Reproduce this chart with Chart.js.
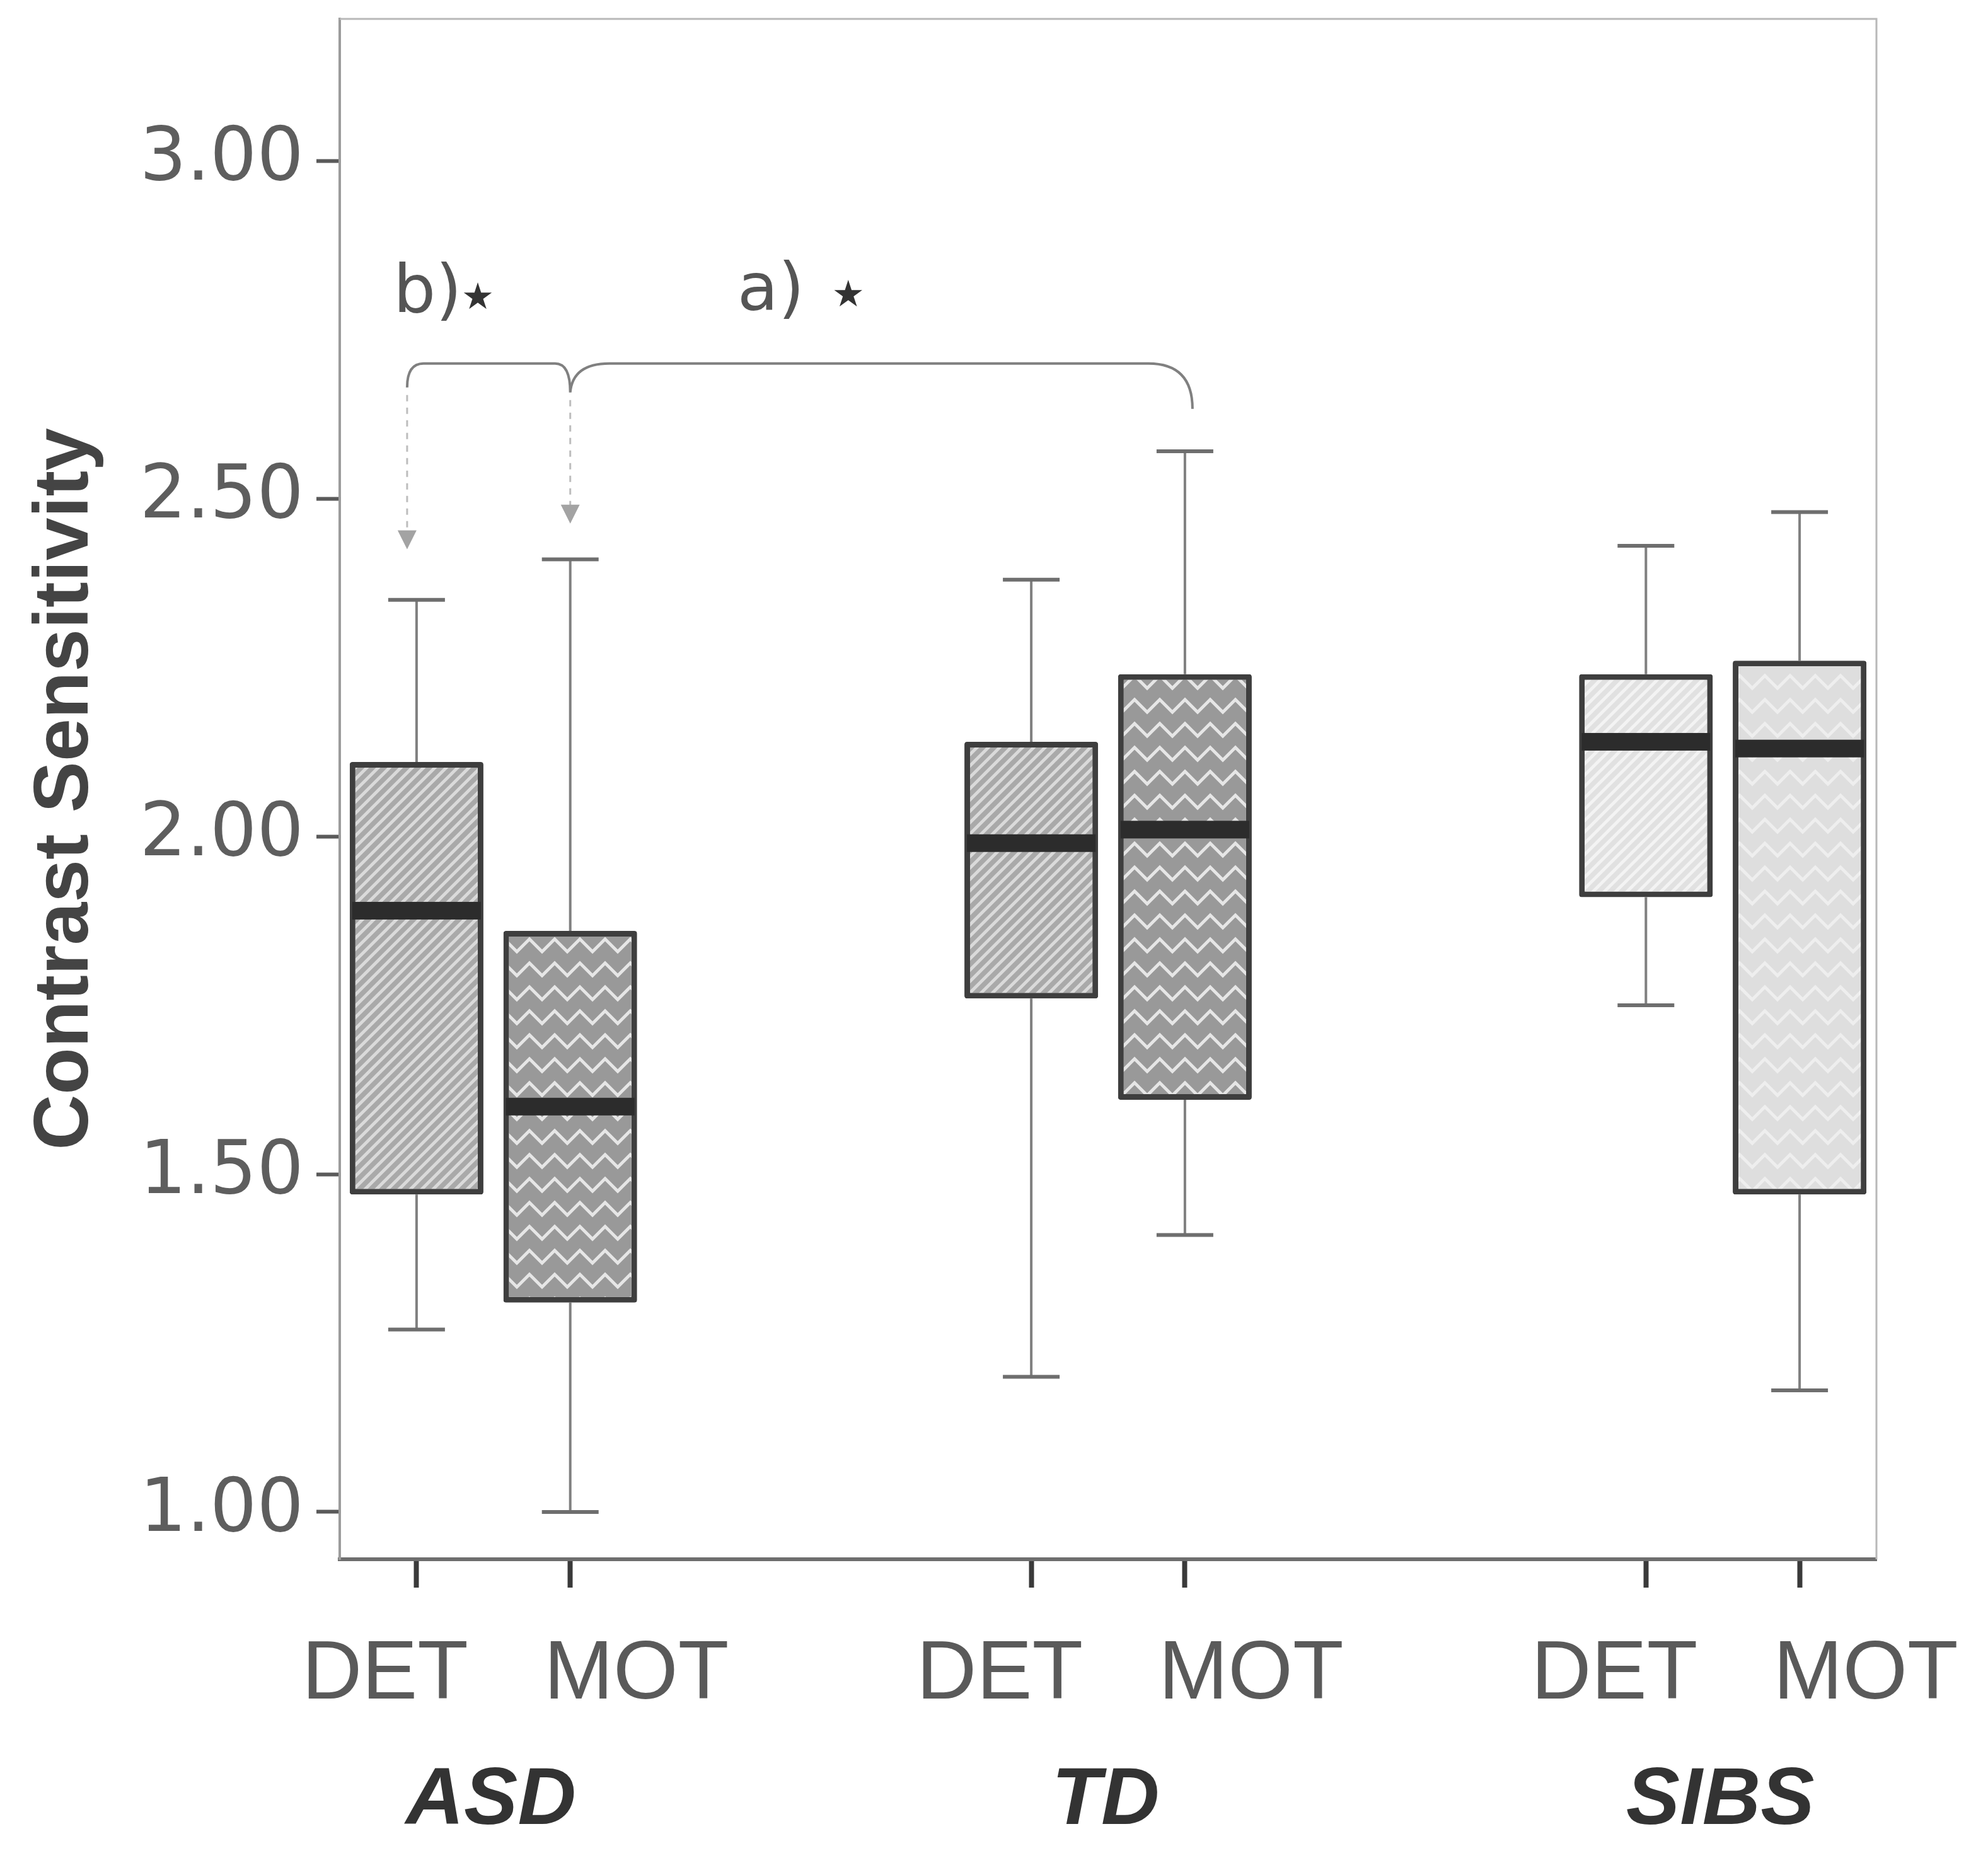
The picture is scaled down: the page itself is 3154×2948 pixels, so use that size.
<!DOCTYPE html>
<html>
<head>
<meta charset="utf-8">
<title>Contrast Sensitivity</title>
<script src="https://cdn.jsdelivr.net/npm/chart.js@4.4.1/dist/chart.umd.min.js"></script>
<style>
    html, body { margin: 0; padding: 0; background: #ffffff; }
    canvas { display: block; }
</style>
</head>
<body>
<canvas id="ChartContraste" width="3154" height="2948"></canvas>
<script>

/// DADOS

const groups = ['ASD', 'TD', 'SIBS'];
const tasks = ['DET', 'MOT'];

// uma entrada por caixa: ASD DET, ASD MOT, TD DET, TD MOT, SIBS DET, SIBS MOT
const whisker_low = [1.27, 1.00, 1.20, 1.41, 1.75, 1.18];
const quartil_1 = [1.47, 1.31, 1.76, 1.61, 1.91, 1.47];
const mediana = [1.89, 1.60, 1.99, 2.01, 2.14, 2.13];
const quartil_3 = [2.11, 1.86, 2.14, 2.24, 2.24, 2.26];
const whisker_high = [2.35, 2.41, 2.38, 2.57, 2.43, 2.48];

const y_ticks = [1.00, 1.50, 2.00, 2.50, 3.00];


/// PADRÕES DE PREENCHIMENTO

function padraoHachura(base, linha) {
    const t = document.createElement('canvas');
    t.width = 18;
    t.height = 18;
    const c = t.getContext('2d');
    c.fillStyle = base;
    c.fillRect(0, 0, 18, 18);
    c.strokeStyle = linha;
    c.lineWidth = 5;
    c.beginPath();
    c.moveTo(-9, 9); c.lineTo(9, -9);
    c.moveTo(0, 18); c.lineTo(18, 0);
    c.moveTo(9, 27); c.lineTo(27, 9);
    c.stroke();
    return c.createPattern(t, 'repeat');
}

function padraoZigzag(base, linha) {
    const t = document.createElement('canvas');
    t.width = 40;
    t.height = 38;
    const c = t.getContext('2d');
    c.fillStyle = base;
    c.fillRect(0, 0, 40, 38);
    c.strokeStyle = linha;
    c.lineWidth = 5;
    c.beginPath();
    c.moveTo(-20, 28);
    c.lineTo(0, 8);
    c.lineTo(20, 28);
    c.lineTo(40, 8);
    c.lineTo(60, 28);
    c.stroke();
    return c.createPattern(t, 'repeat');
}

const preenchimentos = {
    ASD: [padraoHachura('#a9a9a9', '#dadada'), padraoZigzag('#999999', '#e6e6e6')],
    TD: [padraoHachura('#a9a9a9', '#dadada'), padraoZigzag('#999999', '#e6e6e6')],
    SIBS: [padraoHachura('#e1e1e1', '#f3f3f3'), padraoZigzag('#dedede', '#eeeeee')]
};


/// POSIÇÕES NO EIXO X (duas colunas vazias entre os grupos)

var slot_labels = [];
var slot_box = [];      // índice da caixa em cada coluna, ou null
var slot_cor = [];

groups.forEach(function (g, gi) {
    if (gi > 0) {
        slot_labels.push('', '');
        slot_box.push(null, null);
        slot_cor.push('rgba(0,0,0,0)', 'rgba(0,0,0,0)');
    }
    tasks.forEach(function (t, ti) {
        slot_labels.push(t);
        slot_box.push(gi * tasks.length + ti);
        slot_cor.push(preenchimentos[g][ti]);
    });
});

var caixas = slot_box.map(function (b) {
    return b === null ? null : [quartil_1[b], quartil_3[b]];
});

function slotDaCaixa(b) {
    return slot_box.indexOf(b);
}


/// BIGODES, MEDIANAS E ANOTAÇÕES

const boxplotExtras = {
    id: 'boxplotExtras',

    beforeDatasetsDraw(chart) {
        const ctx = chart.ctx;
        const x = chart.scales.x;
        const y = chart.scales.y;
        const area = chart.chartArea;

        // moldura da área do gráfico
        ctx.save();
        ctx.strokeStyle = '#b8b8b8';
        ctx.lineWidth = 3;
        ctx.beginPath();
        ctx.moveTo(area.left, area.top);
        ctx.lineTo(area.right, area.top);
        ctx.lineTo(area.right, area.bottom);
        ctx.stroke();

        // bigodes
        for (let b = 0; b < mediana.length; b++) {
            const px = x.getPixelForValue(slotDaCaixa(b));
            ctx.strokeStyle = '#808080';
            ctx.lineWidth = 4;
            ctx.beginPath();
            ctx.moveTo(px, y.getPixelForValue(quartil_3[b]));
            ctx.lineTo(px, y.getPixelForValue(whisker_high[b]));
            ctx.moveTo(px, y.getPixelForValue(quartil_1[b]));
            ctx.lineTo(px, y.getPixelForValue(whisker_low[b]));
            ctx.stroke();

            ctx.strokeStyle = '#6e6e6e';
            ctx.lineWidth = 6;
            ctx.beginPath();
            ctx.moveTo(px - 45, y.getPixelForValue(whisker_high[b]));
            ctx.lineTo(px + 45, y.getPixelForValue(whisker_high[b]));
            ctx.moveTo(px - 45, y.getPixelForValue(whisker_low[b]));
            ctx.lineTo(px + 45, y.getPixelForValue(whisker_low[b]));
            ctx.stroke();
        }
        ctx.restore();
    },

    afterDatasetsDraw(chart) {
        const ctx = chart.ctx;
        const x = chart.scales.x;
        const y = chart.scales.y;
        const meta = chart.getDatasetMeta(0);
        const area = chart.chartArea;

        // medianas
        ctx.save();
        ctx.fillStyle = '#2c2c2c';
        for (let b = 0; b < mediana.length; b++) {
            const bar = meta.data[slotDaCaixa(b)];
            const py = y.getPixelForValue(mediana[b]);
            ctx.fillRect(bar.x - bar.width / 2 + 4, py - 14, bar.width - 8, 28);
        }

        // chave com as comparações significativas
        const x1 = x.getPixelForValue(slotDaCaixa(0)) - 15;
        const x2 = x.getPixelForValue(slotDaCaixa(1));
        const x3 = x.getPixelForValue(slotDaCaixa(3)) + 12;
        const yb = y.getPixelForValue(2.70);

        ctx.strokeStyle = '#808080';
        ctx.lineWidth = 4;
        ctx.beginPath();
        ctx.moveTo(x1, yb + 38);
        ctx.quadraticCurveTo(x1, yb, x1 + 26, yb);
        ctx.lineTo(x2 - 24, yb);
        ctx.quadraticCurveTo(x2, yb, x2, yb + 46);
        ctx.quadraticCurveTo(x2 + 4, yb, x2 + 62, yb);
        ctx.lineTo(x3 - 70, yb);
        ctx.quadraticCurveTo(x3, yb, x3, yb + 72);
        ctx.stroke();

        // setas tracejadas
        const setas = [[x1, yb + 50, y.getPixelForValue(2.425)], [x2, yb + 58, y.getPixelForValue(2.463)]];
        setas.forEach(function (s) {
            ctx.strokeStyle = '#bdbdbd';
            ctx.lineWidth = 3;
            ctx.setLineDash([10, 10]);
            ctx.beginPath();
            ctx.moveTo(s[0], s[1]);
            ctx.lineTo(s[0], s[2] - 28);
            ctx.stroke();
            ctx.setLineDash([]);
            ctx.fillStyle = '#a3a3a3';
            ctx.beginPath();
            ctx.moveTo(s[0] - 15, s[2] - 30);
            ctx.lineTo(s[0] + 15, s[2] - 30);
            ctx.lineTo(s[0], s[2]);
            ctx.closePath();
            ctx.fill();
        });

        // rótulos a) e b)
        ctx.fillStyle = '#555555';
        ctx.textBaseline = 'alphabetic';
        ctx.textAlign = 'left';
        ctx.font = '106px "DejaVu Sans"';
        ctx.fillText('b)', x1 - 22, yb - 82);
        ctx.fillText('a)', x2 + 265, yb - 85);
        ctx.fillStyle = '#333333';
        ctx.font = '58px "DejaVu Sans"';
        ctx.textAlign = 'center';
        ctx.textBaseline = 'middle';
        ctx.fillText('\u2605', x1 + 112, yb - 102);
        ctx.fillText('\u2605', x2 + 441, yb - 106);

        // rótulos DET / MOT, afastados das marcas como no original
        ctx.fillStyle = '#5a5a5a';
        ctx.font = '132px "Liberation Sans"';
        ctx.textBaseline = 'alphabetic';
        const desloc = { DET: -50, MOT: 105 };
        slot_labels.forEach(function (lbl, i) {
            if (!lbl) return;
            ctx.fillText(lbl, x.getPixelForValue(i) + desloc[lbl], area.bottom + 221);
        });

        // nomes dos grupos
        ctx.fillStyle = '#333333';
        ctx.textBaseline = 'middle';
        ctx.font = 'italic bold 128px "Liberation Sans"';
        groups.forEach(function (g, gi) {
            const a = x.getPixelForValue(slotDaCaixa(gi * 2));
            const c = x.getPixelForValue(slotDaCaixa(gi * 2 + 1));
            ctx.fillText(g, (a + c) / 2 - 4, area.bottom + 385);
        });
        ctx.restore();
    }
};


/// GRÁFICO CONTRAST SENSITIVITY

const chart_contraste = document.getElementById('ChartContraste');

if (chart_contraste) {

    new Chart(chart_contraste, {
        type: 'bar',
        data: {
            labels: slot_labels,
            datasets: [{
                label: '',
                data: caixas,
                backgroundColor: slot_cor,
                borderColor: '#3e3e3e',
                borderWidth: 9,
                borderRadius: 4,
                borderSkipped: false,
                categoryPercentage: 1,
                barPercentage: 0.87
            }]
        },
        options: {
            responsive: false,
            devicePixelRatio: 1,
            animation: false,
            layout: {
                padding: { top: 30, right: 177, left: 0, bottom: 0 }
            },
            plugins: {
                legend: { display: false },
                tooltip: { enabled: false }
            },
            scales: {
                x: {
                    offset: true,
                    grid: {
                        offset: false,
                        drawOnChartArea: false,
                        tickLength: 45,
                        tickWidth: 8,
                        tickColor: function (c) {
                            return slot_labels[c.index] ? '#3a3a3a' : 'rgba(0,0,0,0)';
                        }
                    },
                    border: { color: '#6e6e6e', width: 6 },
                    ticks: { display: false, autoSkip: false },
                    afterFit: function (s) {
                        s.height = 474;
                        s.paddingLeft = 0;
                        s.paddingRight = 0;
                    }
                },
                y: {
                    min: 0.93,
                    max: 3.21,
                    afterBuildTicks: function (s) {
                        s.ticks = y_ticks.map(function (v) { return { value: v }; });
                    },
                    ticks: {
                        padding: 20,
                        color: '#5e5e5e',
                        font: { family: 'DejaVu Sans', size: 117 },
                        callback: function (v) { return Number(v).toFixed(2); }
                    },
                    grid: {
                        drawOnChartArea: false,
                        tickLength: 37,
                        tickWidth: 6,
                        tickColor: '#5a5a5a'
                    },
                    border: { color: '#9c9c9c', width: 4 },
                    title: {
                        display: true,
                        text: 'Contrast Sensitivity',
                        color: '#444444',
                        font: { family: 'Liberation Sans', size: 122, weight: 'bold' },
                        padding: { top: 32, bottom: 0 }
                    },
                    afterFit: function (s) {
                        s.width = 539;
                        s.paddingTop = 0;
                        s.paddingBottom = 0;
                    }
                }
            }
        },
        plugins: [boxplotExtras]
    });

}
</script>
</body>
</html>
